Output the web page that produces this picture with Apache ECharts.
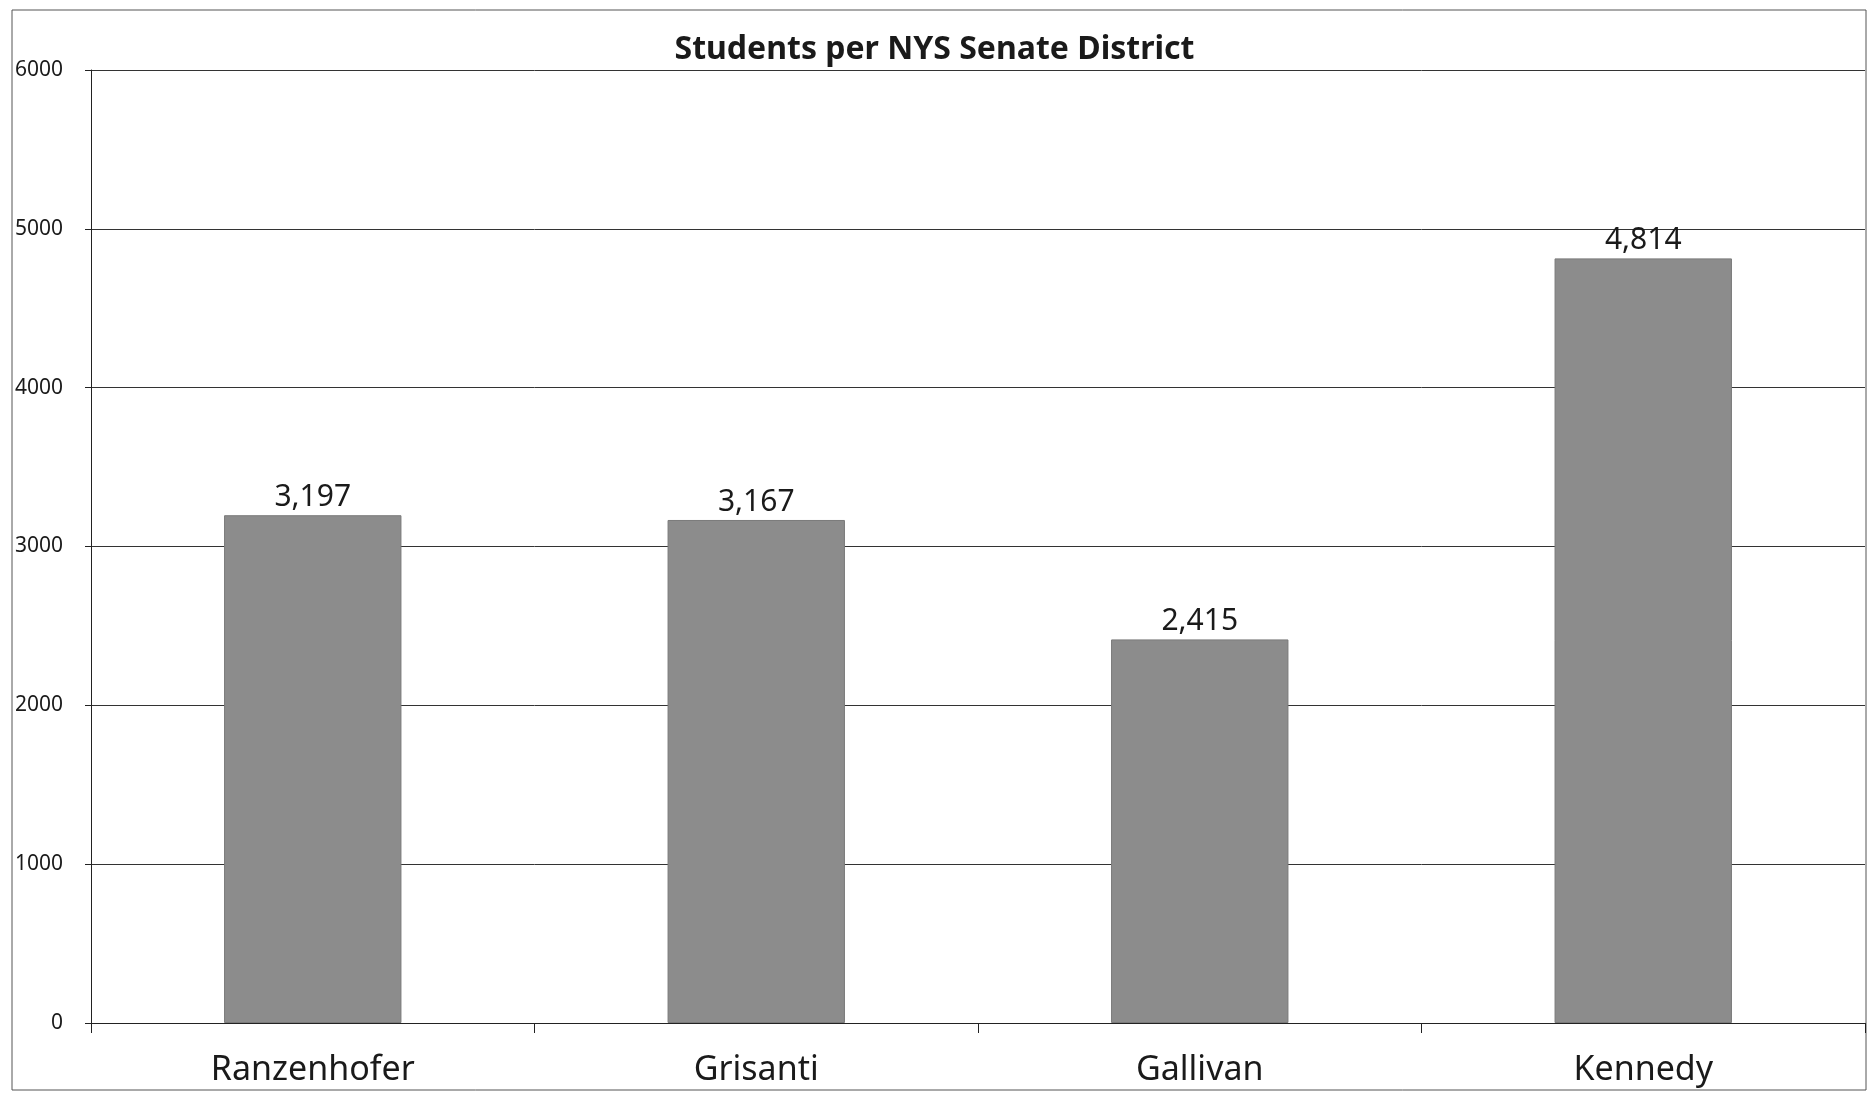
<!DOCTYPE html>
<html>
<head>
<meta charset="utf-8">
<script src="https://cdn.jsdelivr.net/npm/echarts@6/dist/echarts.min.js"></script>
<style>
html,body{margin:0;padding:0;background:#fff;}
#chart{width:1869px;height:1096px;}
</style>
</head>
<body>
<div id="chart"></div>
<script>
const titleText = 'Students per NYS Senate District';
const categories = ['Ranzenhofer', 'Grisanti', 'Gallivan', 'Kennedy'];
const students = [3197, 3167, 2415, 4814];
const yTicks = [0, 1000, 2000, 3000, 4000, 5000, 6000];

const chart = echarts.init(document.getElementById('chart'), null, {renderer: 'canvas'});
chart.setOption({
  backgroundColor: '#ffffff',
  animation: false,
  title: {
    text: titleText,
    left: 'center',
    top: 29,
    textStyle: {fontFamily: 'Noto Sans', fontWeight: 'bold', fontSize: 32, color: '#1a1a1a'}
  },
  graphic: [{
    type: 'rect',
    shape: {x: 12, y: 10, width: 1854, height: 1080},
    style: {fill: 'none', stroke: '#555', lineWidth: 1},
    silent: true
  }],
  grid: {left: 91, right: 4, top: 70, bottom: 73, containLabel: false},
  xAxis: {
    type: 'category',
    data: categories,
    axisLine: {show: true, lineStyle: {color: '#222', width: 1}},
    axisTick: {show: true, length: 10, lineStyle: {color: '#222'}},
    axisLabel: {fontFamily: 'Noto Sans', fontSize: 34, color: '#1a1a1a', margin: 30}
  },
  yAxis: {
    type: 'value',
    min: yTicks[0],
    max: yTicks[yTicks.length - 1],
    interval: 1000,
    axisLine: {show: true, lineStyle: {color: '#222', width: 1}},
    axisTick: {show: true, length: 6, lineStyle: {color: '#222'}},
    axisLabel: {fontFamily: 'Noto Sans', fontSize: 21, color: '#1a1a1a', margin: 28,
      formatter: v => String(v)},
    splitLine: {show: true, lineStyle: {color: '#333', width: 1}}
  },
  series: [{
    type: 'bar',
    data: students,
    barWidth: '40%',
    itemStyle: {color: '#8c8c8c', borderColor: '#7a7a7a', borderWidth: 1},
    label: {
      show: true,
      position: 'top',
      distance: 3,
      fontFamily: 'Noto Sans',
      fontSize: 30,
      color: '#1a1a1a',
      formatter: p => p.value.toLocaleString('en-US')
    }
  }]
});
</script>
</body>
</html>
